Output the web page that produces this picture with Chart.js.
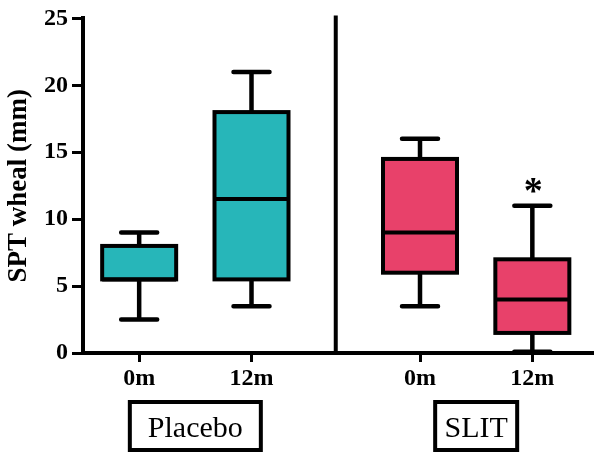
<!DOCTYPE html>
<html><head><meta charset="utf-8">
<script src="https://cdn.jsdelivr.net/npm/chart.js@4/dist/chart.umd.min.js"></script>
<style>html,body{margin:0;padding:0;background:#fff}#wrap{width:600px;height:456px}
.pre{font-family:"Liberation Serif";position:absolute;left:-9999px}</style>
</head><body><span class="pre">Aa</span><span class="pre" style="font-weight:bold">Aa</span>
<div id="wrap"><canvas id="c" width="600" height="456"></canvas></div>
<script>
// ---- data ----
const groups = ["Placebo", "SLIT"];
const categories = ["0m", "12m", "0m", "12m"];
const whiskerLow  = [2.5, 3.5, 3.5, 0.1];
const q1          = [5.5, 5.5, 6.0, 1.5];
const median      = [5.5, 11.5, 9.0, 4.0];
const q3          = [8.0, 18.0, 14.5, 7.0];
const whiskerHigh = [9.0, 21.0, 16.0, 11.0];
const significant = [false, false, false, true];
const yTicks = [0, 5, 10, 15, 20, 25];
const yTitle = "SPT wheal (mm)";

// ---- layout / style ----
const xPos = [1, 2, 3.5, 4.5];
const groupCenters = [1.5, 4];
const groupBoxWidths = [131, 82];
const dividerX = 2.75;
const fills = ['#27b6b9', '#27b6b9', '#e8416a', '#e8416a'];
const SERIF = "'Liberation Serif', 'DejaVu Serif', serif";

const boxPlugin = {
  id: 'boxes',
  afterDatasetsDraw(chart) {
    const xs = chart.scales.x, ys = chart.scales.y, ctx = chart.ctx;
    const ca = chart.chartArea;
    ctx.save();
    ctx.strokeStyle = '#000';
    ctx.fillStyle = '#000';
    const half = 37, capHalf = 18;
    for (let i = 0; i < xPos.length; i++) {
      const cx = xs.getPixelForValue(xPos[i]);
      const yL = ys.getPixelForValue(whiskerLow[i]);
      const y1 = ys.getPixelForValue(q1[i]);
      const yM = ys.getPixelForValue(median[i]);
      const y3 = ys.getPixelForValue(q3[i]);
      const yH = ys.getPixelForValue(whiskerHigh[i]);
      ctx.lineCap = 'butt';
      ctx.lineWidth = 4.5;
      ctx.beginPath();
      ctx.moveTo(cx, y3); ctx.lineTo(cx, yH);
      ctx.moveTo(cx, y1); ctx.lineTo(cx, yL);
      ctx.stroke();
      ctx.lineCap = 'round';
      ctx.beginPath();
      ctx.moveTo(cx - capHalf, yH); ctx.lineTo(cx + capHalf, yH);
      ctx.moveTo(cx - capHalf, yL); ctx.lineTo(cx + capHalf, yL);
      ctx.stroke();
      ctx.lineCap = 'butt';
      ctx.lineJoin = 'miter';
      ctx.lineWidth = 4;
      ctx.strokeRect(cx - half, y3, 2 * half, y1 - y3);
      ctx.beginPath();
      ctx.moveTo(cx - half, yM); ctx.lineTo(cx + half, yM);
      ctx.stroke();
      if (significant[i]) {
        ctx.font = 'bold 38px ' + SERIF;
        ctx.textAlign = 'center';
        ctx.textBaseline = 'alphabetic';
        ctx.fillText('*', cx + 1, yH - 3);
      }
    }
    const dx = xs.getPixelForValue(dividerX);
    ctx.lineWidth = 4;
    ctx.lineCap = 'butt';
    ctx.beginPath();
    ctx.moveTo(dx, ca.top - 3); ctx.lineTo(dx, ca.bottom);
    ctx.stroke();
    ctx.font = '30px ' + SERIF;
    ctx.textAlign = 'center';
    ctx.textBaseline = 'alphabetic';
    for (let g = 0; g < groups.length; g++) {
      const gx = xs.getPixelForValue(groupCenters[g]);
      const w = groupBoxWidths[g];
      const top = ca.bottom + 49, h = 48;
      ctx.lineWidth = 4;
      ctx.strokeRect(gx - w / 2, top, w, h);
      ctx.fillText(groups[g], gx, top + 35);
    }
    ctx.restore();
  }
};

function build() {
  new Chart(document.getElementById('c'), {
    type: 'bar',
    data: {
      datasets: [{
        data: xPos.map((x, i) => ({ x: x, y: [q1[i], q3[i]] })),
        backgroundColor: fills,
        borderWidth: 0,
        barThickness: 74,
        grouped: false
      }]
    },
    options: {
      responsive: false,
      animation: false,
      devicePixelRatio: 1,
      layout: { padding: { top: 15, right: 7, left: 0, bottom: 0 } },
      plugins: { legend: { display: false }, tooltip: { enabled: false } },
      scales: {
        x: {
          type: 'linear',
          offset: false,
          min: 0.5, max: 5.04,
          afterBuildTicks: s => { s.ticks = xPos.map(v => ({ value: v })); },
          afterFit: s => { s.height = 103; },
          ticks: {
            callback: (v, i) => categories[i],
            font: { family: SERIF, size: 24, weight: 'bold' },
            color: '#000', padding: 2, maxRotation: 0, autoSkip: false
          },
          grid: { offset: false, drawOnChartArea: false, drawTicks: true, tickLength: 9, tickWidth: 3, tickColor: '#000' },
          border: { color: '#000', width: 4 }
        },
        y: {
          min: 0, max: 25,
          afterBuildTicks: s => { s.ticks = yTicks.map(v => ({ value: v })); },
          afterFit: s => { s.width = 83; },
          ticks: {
            font: { family: SERIF, size: 24, weight: 'bold' },
            color: '#000', padding: 4
          },
          grid: { drawOnChartArea: false, drawTicks: true, tickLength: 11, tickWidth: 3, tickColor: '#000' },
          border: { color: '#000', width: 4 },
          title: {
            display: true, text: yTitle, color: '#000',
            font: { family: SERIF, size: 27, weight: 'bold' },
            padding: { top: 3, bottom: 0 }
          }
        }
      }
    },
    plugins: [boxPlugin]
  });
}
Promise.all([
  document.fonts.load("bold 24px 'Liberation Serif'"),
  document.fonts.load("30px 'Liberation Serif'")
]).then(build, build);
</script></body></html>
